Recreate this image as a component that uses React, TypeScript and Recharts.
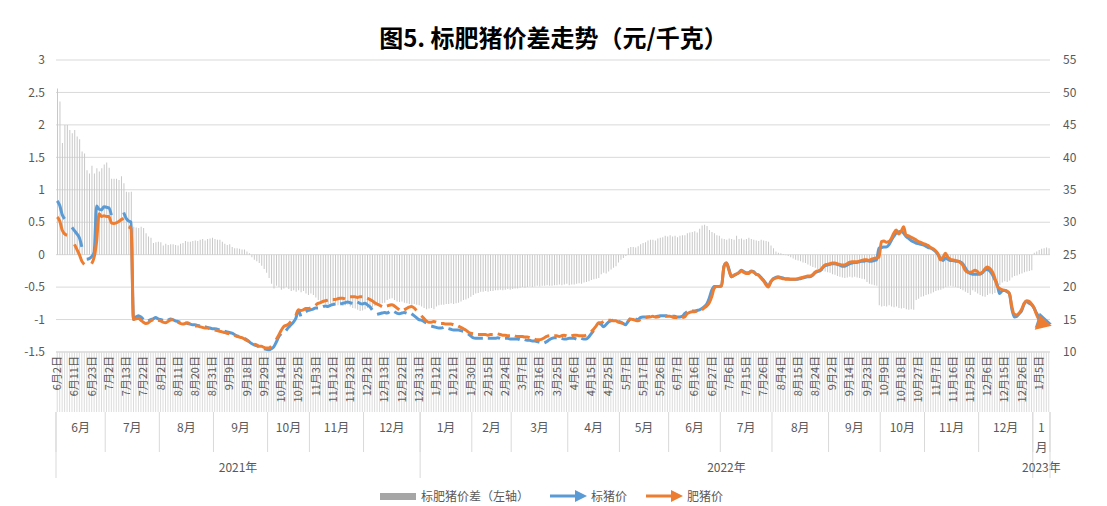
import React from 'react';
import { ComposedChart, Bar, Line, XAxis, YAxis, CartesianGrid } from 'recharts';

// China working days (weekday holidays removed, weekend make-up days added)
const firstDay = '2021-06-02';
const lastDay = '2023-01-11';
const holidays = [
  '2021-06-14', '2021-09-20', '2021-09-21', '2021-10-01', '2021-10-04', '2021-10-05', '2021-10-06', '2021-10-07',
  '2022-01-03', '2022-01-31', '2022-02-01', '2022-02-02', '2022-02-03', '2022-02-04', '2022-04-04', '2022-04-05',
  '2022-05-02', '2022-05-03', '2022-05-04', '2022-06-03', '2022-09-12', '2022-10-03', '2022-10-04', '2022-10-05',
  '2022-10-06', '2022-10-07', '2023-01-02',
];
const makeupDays = [
  '2021-09-18', '2021-09-26', '2021-10-09', '2022-01-29', '2022-01-30', '2022-04-02', '2022-04-24', '2022-05-07',
  '2022-10-08', '2022-10-09',
];

// 标肥猪价差 (left axis), one value per working day, by month
const priceGap = [
  2.56, 2.36, 1.72, 2.0, 2.0, 1.92, 1.87, 1.92, 1.82, 1.78, 1.59, 1.56, 1.30, 1.25, 1.37, 1.25, 1.33, 1.28, 1.33, 1.39,
  1.42, 1.34, 1.17, 1.17, 1.17, 1.15, 1.21, 1.10, 0.97, 0.96, 0.97, 0.43, 0.42, 0.41, 0.43, 0.41, 0.33, 0.28, 0.26, 0.18, 0.19, 0.20,
  0.19, 0.14, 0.17, 0.15, 0.16, 0.16, 0.15, 0.14, 0.17, 0.18, 0.21, 0.20, 0.20, 0.21, 0.22, 0.21, 0.23, 0.24, 0.22, 0.24, 0.25, 0.26,
  0.24, 0.23, 0.23, 0.20, 0.17, 0.15, 0.16, 0.12, 0.10, 0.10, 0.09, 0.08, 0.08, 0.05, 0.02, -0.04, -0.08, -0.10, -0.13, -0.17, -0.22, -0.28,
  -0.36, -0.45, -0.52, -0.48, -0.50, -0.54, -0.52, -0.50, -0.53, -0.56, -0.55, -0.57, -0.55, -0.58, -0.56, -0.60, -0.62,
  -0.60, -0.62, -0.66, -0.70, -0.74, -0.75, -0.76, -0.77, -0.75, -0.77, -0.78, -0.78, -0.77, -0.79, -0.78, -0.77, -0.80, -0.82, -0.83, -0.85, -0.87, -0.86,
  -0.84, -0.82, -0.80, -0.81, -0.79, -0.78, -0.76, -0.75, -0.74, -0.70, -0.68, -0.67, -0.70, -0.72, -0.73, -0.72, -0.74, -0.75, -0.76, -0.77, -0.76, -0.77, -0.78,
  -0.80, -0.82, -0.84, -0.83, -0.82, -0.84, -0.80, -0.78, -0.77, -0.77, -0.76, -0.76, -0.75, -0.76, -0.75, -0.74, -0.72, -0.70, -0.69, -0.67, -0.65,
  -0.62, -0.60, -0.59, -0.57, -0.57, -0.56, -0.57, -0.56, -0.56, -0.55, -0.55, -0.54, -0.55, -0.54, -0.53, -0.54,
  -0.53, -0.52, -0.52, -0.51, -0.50, -0.51, -0.50, -0.49, -0.50, -0.49, -0.48, -0.49, -0.48, -0.48, -0.47, -0.48, -0.48, -0.47, -0.47, -0.46, -0.47, -0.46, -0.45,
  -0.47, -0.46, -0.46, -0.45, -0.44, -0.45, -0.43, -0.42, -0.41, -0.39, -0.38, -0.37, -0.36, -0.30, -0.28, -0.29, -0.26, -0.23, -0.20, -0.18, -0.12,
  -0.08, -0.05, -0.02, 0.10, 0.12, 0.12, 0.11, 0.13, 0.16, 0.18, 0.19, 0.22, 0.23, 0.23, 0.22, 0.25, 0.26, 0.27, 0.29, 0.28,
  0.30, 0.28, 0.29, 0.27, 0.29, 0.30, 0.30, 0.33, 0.34, 0.35, 0.36, 0.34, 0.40, 0.45, 0.46, 0.44, 0.38, 0.35, 0.33, 0.30, 0.29,
  0.25, 0.24, 0.23, 0.25, 0.24, 0.23, 0.29, 0.24, 0.25, 0.23, 0.24, 0.26, 0.24, 0.23, 0.22, 0.21, 0.23, 0.22, 0.21, 0.20, 0.14,
  0.10, 0.05, 0.03, 0.02, 0.01, -0.01, -0.02, -0.04, -0.06, -0.08, -0.09, -0.10, -0.12, -0.13, -0.15, -0.17, -0.19, -0.20, -0.22, -0.23, -0.25, -0.26, -0.27,
  -0.28, -0.30, -0.31, -0.33, -0.34, -0.35, -0.36, -0.35, -0.34, -0.35, -0.34, -0.35, -0.36, -0.37, -0.38, -0.42, -0.45, -0.46, -0.47, -0.48, -0.78,
  -0.80, -0.79, -0.80, -0.78, -0.80, -0.81, -0.80, -0.82, -0.83, -0.82, -0.84, -0.85, -0.84, -0.85, -0.70, -0.68, -0.65, -0.64,
  -0.62, -0.61, -0.60, -0.58, -0.56, -0.55, -0.54, -0.52, -0.50, -0.49, -0.48, -0.49, -0.50, -0.51, -0.53, -0.55, -0.57, -0.59, -0.62, -0.55, -0.57, -0.60,
  -0.62, -0.64, -0.65, -0.62, -0.60, -0.61, -0.59, -0.55, -0.47, -0.43, -0.41, -0.42, -0.40, -0.35, -0.33, -0.32, -0.30, -0.29, -0.27, -0.26, -0.25, -0.24,
  0.03, 0.05, 0.07, 0.09, 0.10, 0.11, 0.10,
];

// 标猪价 (right axis)
const stdPrice = [
  33.3, 32.6, 31.2, 30.5, 30.0, 29.5, 29.2, 28.7, 28.2, 27.6, 26.2, 25.0, 24.3, 24.4, 24.7, 25.4, 32.5, 32.0, 31.9, 32.4,
  32.3, 32.2, 31.1, 31.3, 31.4, 31.5, 31.5, 31.5, 30.6, 30.2, 30.0, 15.0, 15.4, 15.6, 15.4, 15.0, 14.7, 14.8, 15.0, 15.1, 15.3, 15.1,
  15.0, 14.9, 14.8, 14.9, 15.1, 15.0, 14.8, 14.7, 14.6, 14.6, 14.5, 14.4, 14.3, 14.2, 14.2, 14.1, 14.0, 13.9, 13.9, 13.8, 13.7, 13.6,
  13.6, 13.5, 13.4, 13.3, 13.2, 13.1, 13.0, 12.9, 12.7, 12.5, 12.4, 12.3, 12.1, 11.9, 11.6, 11.3, 11.1, 11.0, 10.8, 10.7, 10.5, 10.4,
  10.3, 10.5, 10.8, 11.5, 12.3, 12.8, 13.0, 13.3, 13.8, 14.2, 14.6, 15.2, 16.4, 15.5, 15.7, 16.2, 16.4,
  16.5, 16.6, 16.8, 16.8, 16.9, 17.0, 17.1, 17.0, 17.2, 17.3, 17.4, 17.5, 17.4, 17.5, 17.6, 17.7, 17.6, 17.5, 17.6, 17.7, 17.5, 17.4,
  17.5, 17.3, 17.0, 16.5, 16.0, 15.8, 15.9, 16.0, 16.1, 16.0, 16.2, 16.3, 16.2, 16.0, 15.9, 16.0, 16.1, 16.0, 16.0, 15.9, 15.6, 15.3, 15.0,
  14.9, 14.7, 14.5, 14.2, 14.0, 13.9, 13.8, 13.7, 13.7, 13.8, 13.7, 13.6, 13.5, 13.4, 13.4, 13.4, 13.3, 13.2, 13.0, 12.8, 12.5,
  12.2, 12.1, 12.1, 12.1, 12.1, 12.0, 12.1, 12.1, 12.1, 12.1, 12.2, 12.1, 12.1, 12.1, 12.1, 12.0,
  12.0, 12.0, 12.0, 11.9, 11.9, 11.9, 11.8, 11.8, 11.7, 11.7, 11.6, 11.5, 11.4, 11.4, 11.6, 11.9, 12.1, 12.2, 12.2, 12.1, 12.1, 12.0, 12.0,
  12.1, 12.1, 12.1, 12.0, 12.0, 12.1, 12.0, 12.0, 12.3, 12.8, 13.3, 13.8, 14.4, 14.3, 13.9, 14.2, 14.6, 14.8, 14.9, 14.8, 14.7,
  14.6, 14.4, 14.2, 14.7, 15.2, 15.2, 15.1, 15.0, 15.3, 15.4, 15.4, 15.4, 15.5, 15.5, 15.4, 15.5, 15.6, 15.6, 15.6, 15.6,
  15.6, 15.5, 15.5, 15.4, 15.4, 15.5, 15.9, 16.2, 16.2, 16.3, 16.3, 16.4, 16.5, 16.7, 17.0, 17.4, 18.3, 19.5, 20.1, 20.1, 20.1,
  20.2, 23.2, 23.7, 22.8, 21.6, 21.8, 22.0, 22.2, 22.6, 22.4, 22.2, 22.2, 22.5, 22.4, 22.0, 21.9, 21.5, 21.1, 20.6, 20.1, 20.8,
  21.3, 21.5, 21.6, 21.5, 21.4, 21.3, 21.3, 21.2, 21.2, 21.2, 21.2, 21.3, 21.4, 21.5, 21.6, 21.6, 21.8, 22.2, 22.4, 22.5, 22.9, 23.3, 23.4,
  23.5, 23.6, 23.6, 23.5, 23.4, 23.2, 23.2, 23.4, 23.6, 23.7, 23.8, 23.8, 23.9, 24.0, 24.0, 24.1, 24.0, 24.0, 24.1, 24.2, 26.0,
  26.1, 26.2, 26.2, 26.5, 27.2, 27.8, 28.3, 28.5, 28.6, 28.3, 27.8, 27.5, 27.2, 27.0, 26.8, 26.7, 26.6, 26.5,
  26.3, 26.1, 26.0, 25.8, 25.5, 25.0, 24.4, 24.1, 24.5, 24.3, 24.1, 24.1, 24.0, 24.0, 23.9, 23.6, 23.0, 22.4, 22.1, 22.0, 22.0, 22.0,
  22.0, 22.2, 22.6, 22.7, 22.5, 22.0, 21.2, 20.5, 19.0, 19.4, 19.5, 19.3, 19.0, 16.6, 15.4, 15.5, 15.9, 16.4, 17.4, 17.8, 17.5, 17.3,
  16.8, 16.0, 15.4, 15.0, 14.8, 14.6, 14.5,
];

// 肥猪价 (right axis)
const fatPrice = [
  30.8, 30.2, 28.8, 28.2, 28.0, 27.5, 27.0, 26.6, 25.8, 25.0, 24.0, 23.5, 23.5, 23.5, 23.6, 24.6, 27.0, 31.3, 30.9, 31.0,
  30.9, 30.9, 29.9, 29.8, 29.9, 30.1, 30.4, 30.6, 30.0, 29.3, 29.0, 15.0, 15.1, 15.2, 14.9, 14.6, 14.4, 14.5, 14.8, 15.0, 15.1, 14.9,
  14.8, 14.6, 14.5, 14.7, 14.9, 15.0, 14.9, 14.6, 14.4, 14.3, 14.4, 14.5, 14.3, 14.1, 14.0, 14.0, 13.9, 13.8, 13.7, 13.7, 13.6, 13.5,
  13.4, 13.3, 13.2, 13.1, 13.0, 12.9, 12.8, 12.7, 12.6, 12.4, 12.3, 12.2, 12.0, 11.8, 11.6, 11.3, 11.2, 11.1, 10.9, 10.9, 10.7, 10.6,
  10.6, 10.9, 11.3, 11.9, 12.6, 13.3, 13.9, 14.1, 14.3, 14.7, 15.0, 15.6, 16.5, 16.4, 16.5, 16.7, 16.7,
  16.8, 17.0, 17.2, 17.5, 17.6, 17.8, 17.9, 18.0, 18.0, 18.1, 18.1, 18.2, 18.3, 18.3, 18.2, 18.4, 18.5, 18.5, 18.5, 18.4, 18.5, 18.5,
  18.4, 18.3, 18.1, 17.9, 17.6, 17.4, 17.2, 17.0, 17.0, 17.1, 17.2, 17.3, 17.1, 16.8, 16.5, 16.3, 16.5, 16.7, 16.9, 17.0, 16.8, 16.4, 16.0,
  15.6, 15.2, 14.8, 14.6, 14.6, 14.7, 14.6, 14.5, 14.4, 14.4, 14.3, 14.3, 14.3, 14.2, 14.1, 14.0, 13.8, 13.6, 13.4, 13.1, 12.9,
  12.8, 12.8, 12.7, 12.7, 12.7, 12.7, 12.6, 12.7, 12.7, 12.7, 12.8, 12.7, 12.6, 12.6, 12.5, 12.5,
  12.5, 12.5, 12.4, 12.4, 12.4, 12.3, 12.3, 12.2, 12.1, 12.0, 11.9, 11.9, 12.0, 12.2, 12.4, 12.5, 12.5, 12.5, 12.5, 12.4, 12.5, 12.6, 12.5,
  12.5, 12.5, 12.6, 12.6, 12.5, 12.5, 12.5, 12.6, 12.8, 13.1, 13.5, 14.0, 14.5, 14.5, 14.7, 14.9, 14.9, 14.9, 14.8, 14.8, 14.6,
  14.5, 14.4, 14.3, 14.7, 15.1, 15.0, 14.9, 14.8, 15.0, 15.2, 15.3, 15.4, 15.4, 15.5, 15.4, 15.4, 15.5, 15.5, 15.5, 15.5,
  15.5, 15.4, 15.3, 15.3, 15.3, 15.3, 15.4, 15.9, 16.1, 16.2, 16.2, 16.3, 16.3, 16.5, 16.8, 17.1, 17.6, 18.5, 19.8, 20.1, 20.1,
  20.2, 23.2, 23.7, 22.6, 21.6, 21.8, 22.0, 22.2, 22.5, 22.3, 22.1, 22.1, 22.4, 22.3, 22.0, 21.8, 21.4, 21.0, 20.4, 20.0, 20.8,
  21.2, 21.4, 21.5, 21.4, 21.3, 21.2, 21.2, 21.2, 21.2, 21.2, 21.3, 21.4, 21.5, 21.6, 21.7, 21.7, 21.9, 22.3, 22.5, 22.6, 23.0, 23.4, 23.5,
  23.6, 23.7, 23.7, 23.6, 23.5, 23.4, 23.4, 23.6, 23.8, 23.9, 23.9, 23.9, 24.0, 24.1, 24.2, 24.2, 24.1, 24.3, 24.4, 24.5, 24.6,
  27.0, 27.1, 26.9, 27.0, 27.5, 28.3, 28.8, 28.2, 28.6, 29.3, 28.0, 27.9, 27.7, 27.5, 27.3, 27.0, 26.9, 26.7,
  26.6, 26.4, 26.1, 25.9, 25.6, 25.1, 24.2, 24.6, 25.2, 24.6, 24.3, 24.2, 24.1, 24.0, 23.8, 23.4, 22.6, 22.3, 22.3, 22.4, 22.6, 22.4,
  22.1, 22.3, 22.8, 23.1, 22.9, 22.4, 21.5, 20.2, 19.8, 19.6, 19.5, 19.4, 19.0, 17.0, 15.8, 15.7, 16.0, 16.6, 17.5, 17.9, 17.8, 17.4,
  16.8, 15.8, 15.0, 14.6, 14.4, 14.3, 14.2,
];

// days with no line value (gaps in the lines)
const stdMissing = [4, 5, 11, 23, 24, 25, 26, 36, 44, 51, 59, 67, 75, 83, 92, 100, 107, 114, 121, 129, 136, 143, 151, 158, 166, 174, 181, 189, 197, 204, 212, 219, 227, 234, 242, 249, 257];
const fatMissing = [5, 6, 12, 13, 28, 40, 48, 55, 63, 71, 79, 88, 96, 104, 111, 118, 125, 133, 140, 147, 155, 162, 170, 178, 185, 193, 201, 208, 216, 223, 231, 238, 246, 253, 261];

const leftTicks = [-1.5, -1, -0.5, 0, 0.5, 1, 1.5, 2, 2.5, 3];
const rightTicks = [10, 15, 20, 25, 30, 35, 40, 45, 50, 55];

const days: string[] = [];
for (let t = Date.parse(firstDay + 'T00:00:00Z'); t <= Date.parse(lastDay + 'T00:00:00Z'); t += 86400000) {
  const d = new Date(t);
  const key = d.toISOString().slice(0, 10);
  const wd = d.getUTCDay();
  if ((wd >= 1 && wd <= 5 && !holidays.includes(key)) || makeupDays.includes(key)) days.push(key);
}
const dateLabels = days.map((k) => `${+k.slice(5, 7)}月${+k.slice(8, 10)}日`);

type Group = { key: string; start: number; end: number };
const groupDays = (len: number) => {
  const out: Group[] = [];
  days.forEach((k, i) => {
    const g = out[out.length - 1];
    if (g && g.key === k.slice(0, len)) g.end = i;
    else out.push({ key: k.slice(0, len), start: i, end: i });
  });
  return out;
};
const months = groupDays(7);
const years = groupDays(4);

const rows = days.map((k, i) => ({
  i,
  gap: priceGap[i],
  std: stdMissing.includes(i) ? null : stdPrice[i],
  fat: fatMissing.includes(i) ? null : fatPrice[i],
}));

const W = 1107;
const H = 506;
const plotW = 994;
const step = plotW / days.length;
const half = step / 2;
const txt = '#595959';
const sep = '#d9d9d9';
const font = '"Noto Sans CJK SC", "Noto Sans", sans-serif';

const DateTick = (p: any) => {
  const i = p.payload.value as number;
  if (i % 7 !== 0) return <g />;
  const ty = p.y - 56;
  return (
    <text x={p.x} y={ty} transform={`rotate(-90, ${p.x}, ${ty})`} textAnchor="end" dy="0.36em" fontSize={11} fill={txt} fontFamily={font}>
      {dateLabels[i]}
    </text>
  );
};

const MonthTick = (p: any) => {
  const i = p.payload.value as number;
  const g = months.find((m) => m.start === i);
  const isLast = i === days.length - 1;
  if (!g && !isLast) return <g />;
  const x0 = p.x - half;
  const mid = g ? x0 + ((g.end - g.start + 1) * step) / 2 : 0;
  return (
    <g>
      {g && <line x1={x0} x2={x0} y1={p.y} y2={p.y + 40} stroke={sep} />}
      {isLast && <line x1={p.x + half} x2={p.x + half} y1={p.y} y2={p.y + 40} stroke={sep} />}
      {g && g.end - g.start + 1 > 10 && (
        <text x={mid} y={p.y + 20} textAnchor="middle" fontSize={12} fill={txt} fontFamily={font}>
          {`${+g.key.slice(5, 7)}月`}
        </text>
      )}
      {g && g.end - g.start + 1 <= 10 && (
        <text x={mid} y={p.y + 20} textAnchor="middle" fontSize={12} fill={txt} fontFamily={font}>
          <tspan x={mid}>{+g.key.slice(5, 7)}</tspan>
          <tspan x={mid} dy={20}>月</tspan>
        </text>
      )}
    </g>
  );
};

const YearTick = (p: any) => {
  const i = p.payload.value as number;
  const g = years.find((y) => y.start === i);
  const isLast = i === days.length - 1;
  if (!g && !isLast) return <g />;
  const x0 = p.x - half;
  return (
    <g>
      {g && <line x1={x0} x2={x0} y1={p.y - 40} y2={p.y + 26} stroke={sep} />}
      {isLast && <line x1={p.x + half} x2={p.x + half} y1={p.y - 40} y2={p.y + 26} stroke={sep} />}
      {g && (
        <text x={x0 + ((g.end - g.start + 1) * step) / 2} y={p.y + 20} textAnchor="middle" fontSize={12} fill={txt} fontFamily={font}>
          {`${g.key}年`}
        </text>
      )}
    </g>
  );
};

const arrowDot = (color: string) => (p: any) => {
  if (p.index !== days.length - 1 || p.cx == null) return <g key={p.key} />;
  const { cx, cy } = p;
  return (
    <polygon
      key={p.key}
      points={`${cx + 3},${cy + 1} ${cx - 9},${cy - 10} ${cx - 14},${cy + 5}`}
      fill={color}
    />
  );
};

const LegendArrow = ({ color }: { color: string }) => (
  <svg width={38} height={14} style={{ position: 'absolute', top: 0 }}>
    <line x1={0} y1={7} x2={28} y2={7} stroke={color} strokeWidth={3} />
    <polygon points="25,1 37,7 25,13" fill={color} />
  </svg>
);

const App = () => {
  return (
    <div style={{ position: 'absolute', left: 0, top: 0, width: W, height: H, background: '#fff', fontFamily: font }}>
      <div style={{ position: 'absolute', left: 0, top: 21, width: W, textAlign: 'center', fontSize: 24, lineHeight: '32px', fontWeight: 700, color: '#000' }}>
        图5. 标肥猪价差走势（元/千克）
      </div>
      <ComposedChart width={W} height={H} data={rows} margin={{ top: 60, right: 7, bottom: 24, left: 0 }}>
        <CartesianGrid xAxisId="date" yAxisId="left" vertical={false} stroke={sep} />
        <XAxis
          xAxisId="date"
          dataKey="i"
          interval={0}
          height={60}
          tickSize={60}
          tickMargin={0}
          tickLine={{ stroke: '#dcdcdc' }}
          axisLine={{ stroke: sep }}
          tick={(p: any) => <DateTick {...p} />}
        />
        <XAxis xAxisId="month" dataKey="i" interval={0} height={40} tickSize={0} tickMargin={0} tickLine={false} axisLine={false} tick={(p: any) => <MonthTick {...p} />} />
        <XAxis xAxisId="year" dataKey="i" interval={0} height={30} tickSize={0} tickMargin={0} tickLine={false} axisLine={false} tick={(p: any) => <YearTick {...p} />} />
        <YAxis
          yAxisId="left"
          domain={[-1.5, 3]}
          ticks={leftTicks}
          width={56}
          axisLine={false}
          tickLine={false}
          tickMargin={5}
          tick={{ fontSize: 12, fill: txt, fontFamily: font }}
        />
        <YAxis
          yAxisId="right"
          orientation="right"
          domain={[10, 55]}
          ticks={rightTicks}
          width={50}
          axisLine={false}
          tickLine={false}
          tickMargin={7}
          tick={{ fontSize: 12, fill: txt, fontFamily: font }}
        />
        <Bar xAxisId="date" yAxisId="left" dataKey="gap" fill="#c8c8c8" barSize={1} isAnimationActive={false} />
        <Line
          xAxisId="date"
          yAxisId="right"
          dataKey="std"
          type="monotone"
          stroke="#5b9bd5"
          strokeWidth={3}
          dot={arrowDot('#5b9bd5')}
          activeDot={false}
          isAnimationActive={false}
        />
        <Line
          xAxisId="date"
          yAxisId="right"
          dataKey="fat"
          type="monotone"
          stroke="#ed7d31"
          strokeWidth={3}
          dot={arrowDot('#ed7d31')}
          activeDot={false}
          isAnimationActive={false}
        />
      </ComposedChart>
      <div style={{ position: 'absolute', top: 488, left: 0, width: W, height: 16, fontSize: 12, lineHeight: '16px', color: txt }}>
        <div style={{ position: 'absolute', left: 380, top: 5, width: 36, height: 7, background: '#a6a6a6' }} />
        <span style={{ position: 'absolute', left: 421 }}>标肥猪价差（左轴）</span>
        <div style={{ position: 'absolute', left: 550, top: 1 }}>
          <LegendArrow color="#5b9bd5" />
        </div>
        <span style={{ position: 'absolute', left: 591 }}>标猪价</span>
        <div style={{ position: 'absolute', left: 646, top: 1 }}>
          <LegendArrow color="#ed7d31" />
        </div>
        <span style={{ position: 'absolute', left: 687 }}>肥猪价</span>
      </div>
    </div>
  );
};

export default App;
